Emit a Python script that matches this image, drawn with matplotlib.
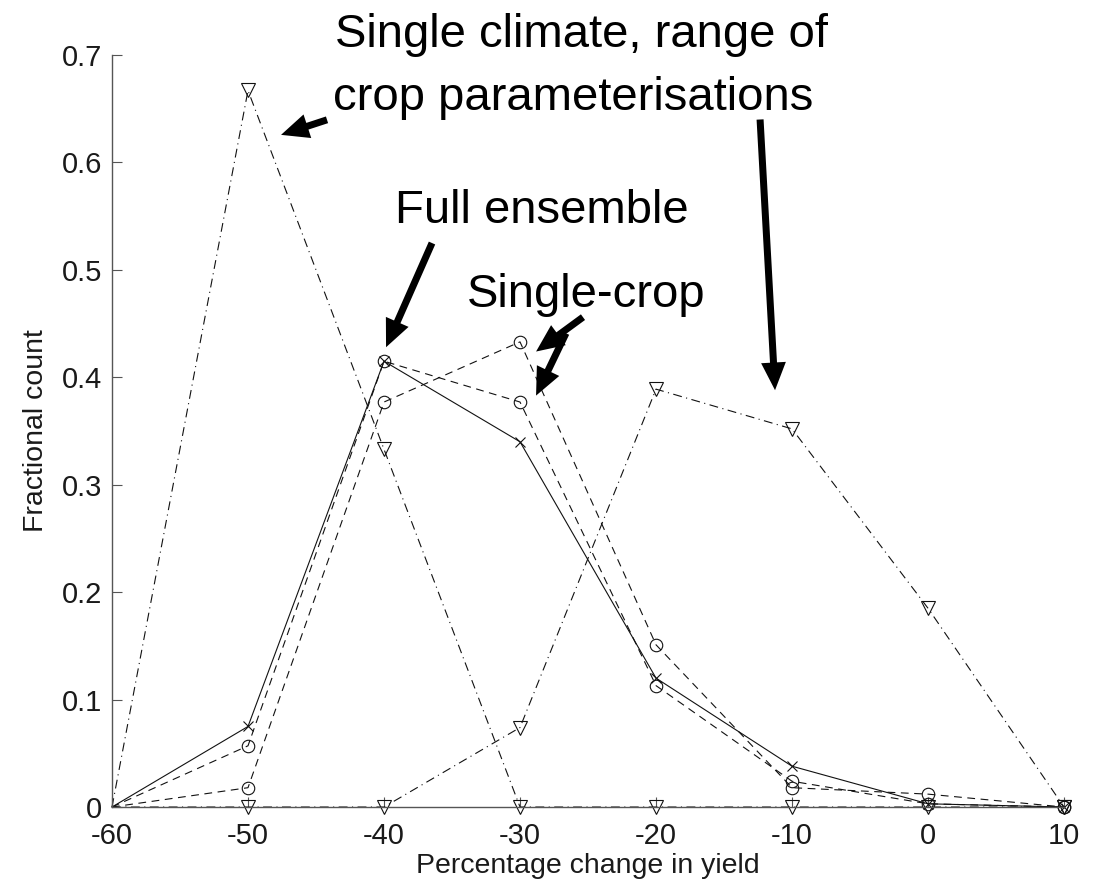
import matplotlib
matplotlib.use("Agg")
import matplotlib.pyplot as plt

plt.rcParams['font.family'] = ['Liberation Sans', 'DejaVu Sans']

# ---- data ----
x_pct = [-60, -50, -40, -30, -20, -10, 0, 10]
full_ensemble = [0.0, 0.075, 0.415, 0.340, 0.120, 0.038, 0.003, 0.0]
single_crop_a = [0.0, 0.057, 0.415, 0.377, 0.113, 0.024, 0.003, 0.0]
single_crop_b = [0.0, 0.018, 0.377, 0.433, 0.151, 0.018, 0.012, 0.0]
single_climate_a = [0.0, 0.667, 0.333, 0.0, 0.0, 0.0, 0.0, 0.0]
single_climate_b = [0.0, 0.0, 0.0, 0.074, 0.389, 0.352, 0.185, 0.0]

x_ticks = [-60, -50, -40, -30, -20, -10, 0, 10]
x_tick_labels = ['-60', '-50', '-40', '-30', '-20', '-10', '0', '10']
y_ticks = [0, 0.1, 0.2, 0.3, 0.4, 0.5, 0.6, 0.7]
y_tick_labels = ['0', '0.1', '0.2', '0.3', '0.4', '0.5', '0.6', '0.7']

fig = plt.figure(figsize=(10.99, 8.82), dpi=100)
ax = fig.add_axes([0.1019, 0.085, 0.8663, 0.8526])

lw = 0.8
mk = dict(markevery=slice(1, None), markerfacecolor='none',
          markeredgecolor='#111111', markeredgewidth=0.8, clip_on=False)
dash = (0, (7, 5))
dashdot = (0, (8, 4, 1, 4))

ax.plot(x_pct, single_climate_a, color='#111111', lw=lw, ls=dashdot, marker='v', markersize=9.5, **mk)
ax.plot(x_pct, single_climate_b, color='#111111', lw=lw, ls=dashdot, marker='v', markersize=9.5, **mk)
ax.plot(x_pct, single_crop_a, color='#111111', lw=lw, ls=dash, marker='o', markersize=9, **mk)
ax.plot(x_pct, single_crop_b, color='#111111', lw=lw, ls=dash, marker='o', markersize=9, **mk)
ax.plot(x_pct, full_ensemble, color='#111111', lw=lw, ls='-', marker='x', markersize=7, **mk)

ax.set_xlim(-60, 10)
ax.set_ylim(0, 0.7)
ax.set_xticks(x_ticks)
ax.set_xticklabels(x_tick_labels)
ax.set_yticks(y_ticks)
ax.set_yticklabels(y_tick_labels)

for s in ['top', 'right']:
    ax.spines[s].set_visible(False)
for s in ['left', 'bottom']:
    ax.spines[s].set_color('#555555')
    ax.spines[s].set_linewidth(1.0)

ax.tick_params(direction='in', length=7, width=0.8, color='#555555',
               labelsize=21, labelcolor='#1a1a1a')
ax.tick_params(axis='y', pad=7)
ax.tick_params(axis='x', pad=11)

ax.set_xlabel('Percentage change in yield', fontsize=20.5, color='#1a1a1a', labelpad=2)
ax.set_ylabel('Fractional count', fontsize=20.5, color='#1a1a1a', labelpad=9)

# ---- annotations ----
tfs = 34
ax.text(-43.6, 0.7076, 'Single climate, range of', fontsize=tfs, ha='left', va='baseline', color='black')
ax.text(-43.75, 0.649, 'crop parameterisations', fontsize=tfs, ha='left', va='baseline', color='black')
ax.text(-39.19, 0.5438, 'Full ensemble', fontsize=tfs, ha='left', va='baseline', color='black')
ax.text(-33.9, 0.4655, 'Single-crop', fontsize=tfs, ha='left', va='baseline', color='black')

arrow_style = "simple,head_length=0.95,head_width=0.85,tail_width=0.24"
arrows = [
    ((-44.19, 0.6397), (-47.57, 0.6257)),
    ((-12.35, 0.640), (-11.25, 0.388)),
    ((-36.47, 0.525), (-39.85, 0.428)),
    ((-25.37, 0.456), (-28.82, 0.424)),
    ((-26.62, 0.441), (-28.82, 0.383)),
]
for tail, tip in arrows:
    ax.annotate('', xy=tip, xytext=tail,
                arrowprops=dict(arrowstyle=arrow_style, mutation_scale=21,
                                color='black', lw=0, shrinkA=0, shrinkB=0))

fig.savefig('out.png', dpi=100)
